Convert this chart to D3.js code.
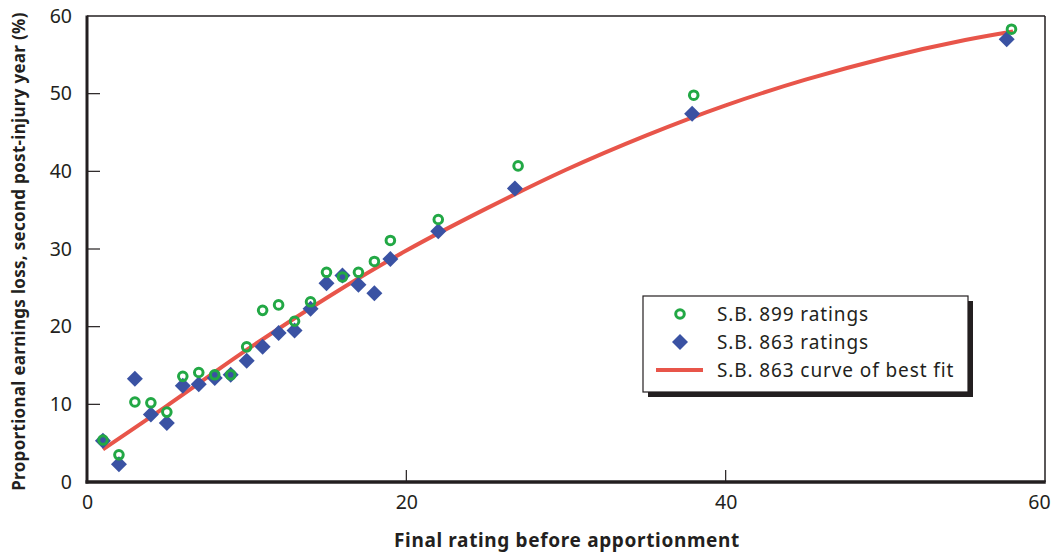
<!DOCTYPE html>
<html>
<head>
<meta charset="utf-8">
<script src="https://cdn.jsdelivr.net/npm/d3@7"></script>
<style>
  html, body { margin: 0; padding: 0; background: #fff; }
  text { font-family: "Noto Sans", "Open Sans", sans-serif; }
</style>
</head>
<body>
<svg id="chart" width="1055" height="554"></svg>
<script>
// Ratings (x)
const ratings = [1,2,3,4,5,6,7,8,9,10,11,12,13,14,15,16,17,18,19,22,26.8,37.9,57.6];
const ratings899 = [1,2,3,4,5,6,7,8,9,10,11,12,13,14,15,16,17,18,19,22,27,38,57.9];
// S.B. 863 ratings
const sb863 = [5.3,2.3,13.3,8.7,7.6,12.4,12.6,13.4,13.8,15.6,17.4,19.2,19.5,22.3,25.6,26.6,25.4,24.3,28.7,32.3,37.8,47.4,57.0];
// S.B. 899 ratings
const sb899 = [5.4,3.5,10.3,10.2,9.0,13.6,14.1,13.8,13.8,17.4,22.1,22.8,20.7,23.2,27.0,26.4,27.0,28.4,31.1,33.8,40.7,49.8,58.3];
// Curve of best fit
const fitX = [1,5,10,15,20,25,30,35,40,45,50,55,58];
const fitY = [4.2,9.8,17.0,23.7,29.8,35.2,40.2,44.6,48.5,51.8,54.6,56.9,58.0];
const xTicks = [0,20,40,60];
const yTicks = [0,10,20,30,40,50,60];
const legendLabels = ["S.B. 899 ratings","S.B. 863 ratings","S.B. 863 curve of best fit"];

const svg = d3.select("#chart");
const L = 87, R = 1045, T = 16, B = 482;
const x = d3.scaleLinear().domain([0,60]).range([L,R]);
const y = d3.scaleLinear().domain([0,60]).range([B,T]);

const green = "#22a845", blue = "#3a52a3", red = "#e8554a", ink = "#231f20";

// frame top & right
svg.append("line").attr("x1",L).attr("x2",R).attr("y1",T).attr("y2",T).attr("stroke",ink).attr("stroke-width",1.5);
svg.append("line").attr("x1",R).attr("x2",R).attr("y1",T).attr("y2",B).attr("stroke",ink).attr("stroke-width",1.5);

// y axis
const yAxis = d3.axisLeft(y).tickValues(yTicks).tickSize(0).tickPadding(15);
const gy = svg.append("g").attr("transform",`translate(${L},0)`).call(yAxis);
gy.select(".domain").remove();
gy.selectAll("text").attr("font-size",19.5).attr("fill",ink).style("font-family","'Noto Sans', sans-serif");
// inward ticks
svg.append("g").selectAll("line").data(yTicks.filter(d=>d>0&&d<60)).join("line")
  .attr("x1",L).attr("x2",L+13).attr("y1",d=>y(d)).attr("y2",d=>y(d))
  .attr("stroke",ink).attr("stroke-width",1.2);

// x axis
const xAxis = d3.axisBottom(x).tickValues(xTicks).tickSize(0).tickPadding(13);
const gx = svg.append("g").attr("transform",`translate(0,${B})`).call(xAxis);
gx.select(".domain").remove();
gx.selectAll("text").attr("font-size",19.5).attr("fill",ink).style("font-family","'Noto Sans', sans-serif")
  .attr("dx", d => d === 60 ? "-6px" : "0");
svg.append("g").selectAll("line").data(xTicks.filter(d=>d>0&&d<60)).join("line")
  .attr("x1",d=>x(d)).attr("x2",d=>x(d)).attr("y1",B).attr("y2",B-12)
  .attr("stroke",ink).attr("stroke-width",1.2);

// thick left & bottom axis lines
svg.append("line").attr("x1",L).attr("x2",L).attr("y1",T-0.5).attr("y2",B+1.5).attr("stroke",ink).attr("stroke-width",3);
svg.append("line").attr("x1",L-1.5).attr("x2",R+0.75).attr("y1",B).attr("y2",B).attr("stroke",ink).attr("stroke-width",3.5);

// curve
const line = d3.line().x((d,i)=>x(fitX[i])).y(d=>y(d)).curve(d3.curveCatmullRom);
svg.append("path").datum(fitY).attr("d",line).attr("fill","none").attr("stroke",red).attr("stroke-width",4).attr("stroke-linecap","butt");

// diamonds
const diamond = d3.symbol().type(d3.symbolSquare).size(128);
svg.append("g").selectAll("path").data(sb863).join("path")
  .attr("d",diamond)
  .attr("transform",(d,i)=>`translate(${x(ratings[i])},${y(d)}) rotate(45)`)
  .attr("fill",blue);

// circles
svg.append("g").selectAll("circle").data(sb899).join("circle")
  .attr("cx",(d,i)=>x(ratings899[i])).attr("cy",d=>y(d)).attr("r",4.3)
  .attr("fill","none").attr("stroke",green).attr("stroke-width",3);

// legend
const lg = svg.append("g");
lg.append("rect").attr("x",648).attr("y",301).attr("width",325).attr("height",96).attr("fill",ink);
lg.append("rect").attr("x",643).attr("y",296).attr("width",325).attr("height",96).attr("fill","#fff").attr("stroke",ink).attr("stroke-width",1.2);
lg.append("circle").attr("cx",680).attr("cy",314).attr("r",4.3).attr("fill","none").attr("stroke",green).attr("stroke-width",3);
lg.append("path").attr("d",diamond).attr("transform","translate(680,342) rotate(45)").attr("fill",blue);
lg.append("line").attr("x1",656).attr("x2",703).attr("y1",370).attr("y2",370).attr("stroke",red).attr("stroke-width",4);
lg.selectAll("text").data(legendLabels).join("text")
  .attr("x",717).attr("y",(d,i)=>314+i*28).attr("dy","0.35em")
  .attr("font-size",19).attr("letter-spacing","0.9px").attr("fill",ink).text(d=>d);

// axis titles
svg.append("text").attr("x",567).attr("y",547).attr("text-anchor","middle")
  .attr("font-size",19).attr("letter-spacing","0.65px").attr("font-weight","bold").attr("fill",ink).text("Final rating before apportionment");
svg.append("text").attr("transform",`translate(25,251.5) rotate(-90)`).attr("text-anchor","middle")
  .attr("font-size",17).attr("letter-spacing","0.3px").attr("font-weight","bold").attr("fill",ink).text("Proportional earnings loss, second post-injury year (%)");
</script>
</body>
</html>
